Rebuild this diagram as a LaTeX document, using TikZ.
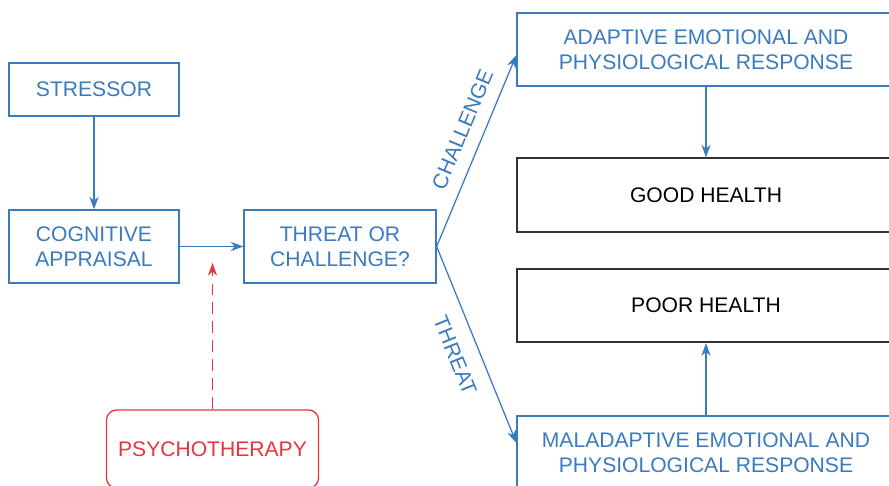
\documentclass[tikz,border=0pt]{standalone}
\usepackage{fontspec}
\setmainfont{Liberation Sans}
\usetikzlibrary{positioning, arrows.meta}

\definecolor{flowblue}{RGB}{58,122,190}
\definecolor{therapyred}{RGB}{232,52,62}
\definecolor{healthgray}{RGB}{50,50,50}

\begin{document}
\begin{tikzpicture}[
    x=0.025cm, y=-0.025cm,
    font=\fontsize{15}{17.7}\selectfont,
    box/.style={
        rectangle,
        draw=flowblue,
        text=flowblue,
        line width=0.9pt,
        align=center,
        minimum height=1.825cm
    },
    outcome/.style={
        rectangle,
        draw=healthgray,
        text=black,
        line width=1.2pt,
        minimum width=9.45cm,
        minimum height=1.84cm
    },
    therapy/.style={
        rectangle,
        rounded corners=0.25cm,
        draw=therapyred,
        text=therapyred,
        line width=0.9pt,
        minimum width=5.3cm,
        minimum height=1.95cm
    },
    arrow/.style={-{Stealth[length=9pt, width=6.5pt]}, flowblue, line width=0.9pt}
]
\useasboundingbox (0,0) rectangle (889,486);

\node[box, minimum width=4.25cm, minimum height=1.325cm] (stressor) at (94,89.5) {STRESSOR};
\node[box, minimum width=4.25cm] (appraisal) at (94,246.5) {COGNITIVE\\APPRAISAL};
\node[box, minimum width=4.8cm] (question) at (340,246.5) {THREAT OR\\CHALLENGE?};
\node[box, minimum width=9.45cm] (adaptive) at (706,49.5) {ADAPTIVE EMOTIONAL AND\\PHYSIOLOGICAL RESPONSE};
\node[outcome] (good) at (706,195) {GOOD HEALTH};
\node[outcome] (poor) at (706,305.5) {POOR HEALTH};
\node[box, minimum width=9.45cm] (maladaptive) at (706,452.5) {MALADAPTIVE EMOTIONAL AND\\PHYSIOLOGICAL RESPONSE};
\node[therapy] (psychotherapy) at (212.5,449) {PSYCHOTHERAPY};
\coordinate (target) at (212.5,263);

\draw[arrow] (stressor) -- (appraisal);
\draw[arrow] (appraisal) -- (question);
\draw[arrow] (question.east) -- node[above=6pt, sloped, pos=0.57] {CHALLENGE} ([yshift=-0.14cm]adaptive.west);
\draw[arrow] (question.east) -- node[below=8pt, sloped, pos=0.51] {THREAT} ([yshift=0.24cm]maladaptive.west);
\draw[arrow] (adaptive) -- (good);
\draw[arrow] (maladaptive) -- (poor);
\draw[arrow, therapyred, dash pattern=on 8.5pt off 5pt] (psychotherapy) -- (target);

\end{tikzpicture}
\end{document}
